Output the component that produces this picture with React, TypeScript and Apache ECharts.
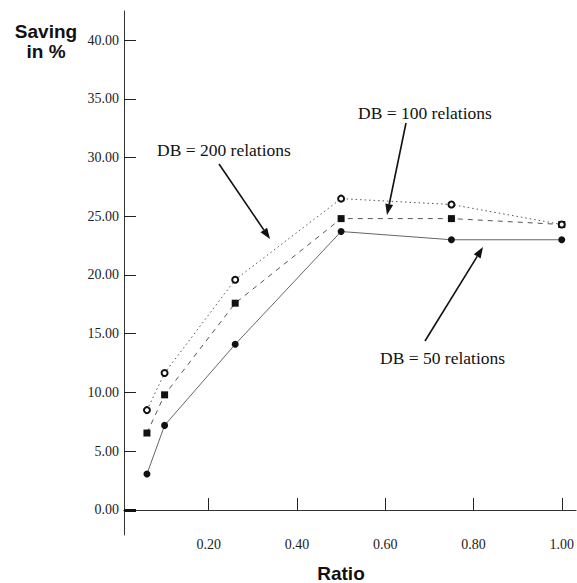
import React, { useEffect, useRef } from "react";
import * as echarts from "echarts";

const ratios = [0.06, 0.1, 0.26, 0.5, 0.75, 1.0];
const db50 = [3.06, 7.2, 14.1, 23.7, 23.0, 23.0];
const db100 = [6.55, 9.8, 17.6, 24.8, 24.8, 24.3];
const db200 = [8.5, 11.66, 19.6, 26.5, 26.0, 24.3];
const xTicks = [0.2, 0.4, 0.6, 0.8, 1.0];
const yTicks = [0, 5, 10, 15, 20, 25, 30, 35, 40];

const SERIF = "'Liberation Serif', 'Times New Roman', serif";
const SANS = "'Liberation Sans', Arial, sans-serif";

function arrow(x1: number, y1: number, x2: number, y2: number) {
  const dx = x2 - x1;
  const dy = y2 - y1;
  const len = Math.sqrt(dx * dx + dy * dy);
  const ux = dx / len;
  const uy = dy / len;
  const hl = 11;
  const hw = 4;
  const bx = x2 - ux * hl;
  const by = y2 - uy * hl;
  return [
    {
      type: "line",
      shape: { x1, y1, x2: bx, y2: by },
      style: { stroke: "#111", lineWidth: 1.6 },
    },
    {
      type: "polygon",
      shape: {
        points: [
          [x2, y2],
          [bx - uy * hw, by + ux * hw],
          [bx + uy * hw, by - ux * hw],
        ],
      },
      style: { fill: "#111" },
    },
  ];
}

export default function App() {
  const ref = useRef<HTMLDivElement>(null);
  useEffect(() => {
    if (!ref.current) return;
    const chart = echarts.init(ref.current, undefined, { renderer: "svg" });
    const pairs = (ys: number[]) => ratios.map((x, i) => [x, ys[i]]);
    const axisLine = { show: true, lineStyle: { color: "#333", width: 1 } };
    chart.setOption({
      animation: false,
      backgroundColor: "#fff",
      grid: { left: 124, right: 0, top: 11, bottom: 48 },
      xAxis: [
        {
          type: "value",
          min: 0.008,
          max: 1.032,
          axisLine,
          splitLine: { show: false },
          axisTick: {
            show: true,
            inside: true,
            length: 12,
            customValues: xTicks,
            lineStyle: { color: "#222", width: 1 },
          },
          axisLabel: {
            customValues: xTicks,
            formatter: (v: number) => v.toFixed(2),
            fontFamily: SERIF,
            fontSize: 14,
            color: "#222",
            margin: 2,
          },
        },
        {
          type: "value",
          position: "top",
          min: 0.008,
          max: 1.032,
          axisLine,
          axisTick: { show: false },
          axisLabel: { show: false },
          splitLine: { show: false },
        },
      ],
      yAxis: [
        {
          type: "value",
          min: -2.13,
          max: 42.47,
          axisLine,
          splitLine: { show: false },
          axisTick: {
            show: true,
            inside: true,
            length: 12,
            customValues: yTicks,
            lineStyle: { color: "#222", width: 1 },
          },
          axisLabel: {
            customValues: yTicks,
            formatter: (v: number) => v.toFixed(2),
            fontFamily: SERIF,
            fontSize: 14,
            color: "#222",
            margin: 5,
          },
        },
        {
          type: "value",
          position: "left",
          min: -2.13,
          max: 42.47,
          axisLine: { show: false },
          splitLine: { show: false },
          axisLabel: { show: false },
          axisTick: {
            show: true,
            inside: true,
            length: 12,
            customValues: [0],
            lineStyle: { color: "#111", width: 3 },
          },
        },
      ],
      series: [
        {
          name: "DB = 50 relations",
          type: "line",
          data: pairs(db50),
          symbol: "circle",
          symbolSize: 7,
          itemStyle: { color: "#111" },
          lineStyle: { color: "#666", width: 1, type: "solid" },
        },
        {
          name: "DB = 100 relations",
          type: "line",
          data: pairs(db100),
          symbol: "rect",
          symbolSize: 7,
          itemStyle: { color: "#111" },
          lineStyle: { color: "#555", width: 1, type: [5, 5] },
        },
        {
          name: "DB = 200 relations",
          type: "line",
          data: pairs(db200),
          symbol: "emptyCircle",
          symbolSize: 6,
          itemStyle: { color: "#111", borderWidth: 1.6, borderColor: "#111" },
          lineStyle: { color: "#555", width: 1, type: [1.5, 3] },
        },
      ],
      graphic: [
        {
          type: "text",
          x: 46,
          y: 41,
          style: {
            text: "Saving\nin %",
            font: `bold 19px ${SANS}`,
            fill: "#111",
            align: "center",
            verticalAlign: "middle",
            lineHeight: 20,
          },
        },
        {
          type: "text",
          x: 341,
          y: 573,
          style: {
            text: "Ratio",
            font: `bold 19px ${SANS}`,
            fill: "#111",
            align: "center",
            verticalAlign: "middle",
          },
        },
        {
          type: "text",
          x: 157,
          y: 150,
          style: {
            text: "DB = 200 relations",
            font: `17.5px ${SERIF}`,
            fill: "#111",
            align: "left",
            verticalAlign: "middle",
          },
        },
        {
          type: "text",
          x: 358,
          y: 113,
          style: {
            text: "DB = 100 relations",
            font: `17.5px ${SERIF}`,
            fill: "#111",
            align: "left",
            verticalAlign: "middle",
          },
        },
        {
          type: "text",
          x: 380,
          y: 358,
          style: {
            text: "DB = 50 relations",
            font: `17.5px ${SERIF}`,
            fill: "#111",
            align: "left",
            verticalAlign: "middle",
          },
        },
        ...arrow(219, 164, 270, 239),
        ...arrow(406, 123, 387, 215),
        ...arrow(425, 341, 483, 247),
      ],
    });
    return () => chart.dispose();
  }, []);
  return (
    <div
      ref={ref}
      style={{ position: "fixed", left: 0, top: 0, width: 577, height: 583 }}
    />
  );
}
